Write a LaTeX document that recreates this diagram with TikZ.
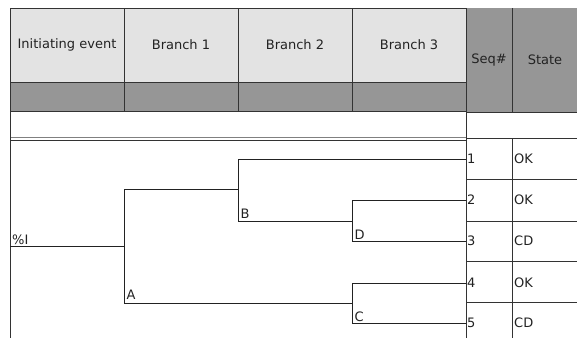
\documentclass[tikz,border=0pt]{standalone}
\usepackage{fontspec}
\setmainfont{DejaVu Sans}
\definecolor{hdrlight}{HTML}{E3E3E3}
\definecolor{hdrdark}{HTML}{969696}
\definecolor{inkc}{HTML}{222222}
\definecolor{rulec}{HTML}{333333}
\begin{document}
\begin{tikzpicture}[x=1pt,y=-1pt,
  every node/.style={font=\fontsize{13}{15}\selectfont,text=inkc},
  hdr/.style={anchor=center,inner sep=0pt},
  lbl/.style={anchor=base west,inner sep=0pt},
  seqlbl/.style={anchor=west,inner sep=1pt},
  rul/.style={draw=rulec,line width=0.9pt},
  tree/.style={draw=inkc,line width=0.9pt}]
\useasboundingbox (0,0) rectangle (577,338);
% header fills
\fill[hdrlight] (10,8) rectangle (466,82);
\fill[hdrdark] (10,82) rectangle (466,111);
\fill[hdrdark] (466,8) rectangle (577,112);
% header lines
\draw[rul] (10,8) -- (466,8);
\draw[rul] (10,82) -- (466,82);
\draw[rul] (10,111) -- (466,111);
\foreach \x in {124,238,352} \draw[rul] (\x,8) -- (\x,111);
\draw[draw=gray,line width=0.9pt] (10,137.5) -- (466,137.5);
\draw[rul] (10,140.5) -- (466,140.5);
\draw[rul] (10,8) -- (10,338);
\draw[rul,line width=1.5pt] (466.7,8) -- (466.7,338);
\draw[rul] (512,8) -- (512,112);
\draw[rul] (512,138) -- (512,338);
\foreach \y in {112,138,179,221,261,302} \draw[rul] (466,\y) -- (577,\y);
% header texts
\node[hdr] (h0) at (67,45) {Initiating event};
\node[hdr] (h1) at (181,45) {Branch 1};
\node[hdr] (h2) at (295,45) {Branch 2};
\node[hdr] (h3) at (409,45) {Branch 3};
\node[hdr] (h4) at (489,60) {Seq\#};
\node[hdr] (h5) at (545,60) {State};
% sequence numbers and states
\node[seqlbl] (s1) at (466,159) {1};
\node[seqlbl] (s2) at (466,200) {2};
\node[seqlbl] (s3) at (466,241) {3};
\node[seqlbl] (s4) at (466,283) {4};
\node[seqlbl] (s5) at (466,323) {5};
\node[seqlbl] (t1) at (513,159) {OK};
\node[seqlbl] (t2) at (513,200) {OK};
\node[seqlbl] (t3) at (513,241) {CD};
\node[seqlbl] (t4) at (513,283) {OK};
\node[seqlbl] (t5) at (513,323) {CD};
% tree junctions
\coordinate (root) at (10,246);
\coordinate (n0) at (124,246);
\coordinate (up0) at (124,189);
\coordinate (dn0) at (124,303);
\coordinate (bj) at (238,189);
\coordinate (bt) at (238,159);
\coordinate (bb) at (238,221);
\coordinate (dj) at (352,221);
\coordinate (dt) at (352,200);
\coordinate (db) at (352,241);
\coordinate (cj) at (352,303);
\coordinate (ct) at (352,283);
\coordinate (cb) at (352,323);
% tree lines
\draw[tree] (root) -- (n0);
\draw[tree] (up0) -- (dn0);
\draw[tree] (up0) -- (bj);
\draw[tree] (bt) -- (bb);
\draw[tree] (bt) -- (s1.west);
\draw[tree] (bb) -- (dj);
\draw[tree] (dt) -- (db);
\draw[tree] (dt) -- (s2.west);
\draw[tree] (db) -- (s3.west);
\draw[tree] (dn0) -- (cj);
\draw[tree] (ct) -- (cb);
\draw[tree] (ct) -- (s4.west);
\draw[tree] (cb) -- (s5.west);
% tree labels
\node[lbl] (lI) at (12,244.5) {\%I};
\node[lbl] (lA) at (126.5,299.5) {A};
\node[lbl] (lB) at (240.5,218.5) {B};
\node[lbl] (lD) at (354.5,239) {D};
\node[lbl] (lC) at (354.5,321.5) {C};
\end{tikzpicture}
\end{document}
